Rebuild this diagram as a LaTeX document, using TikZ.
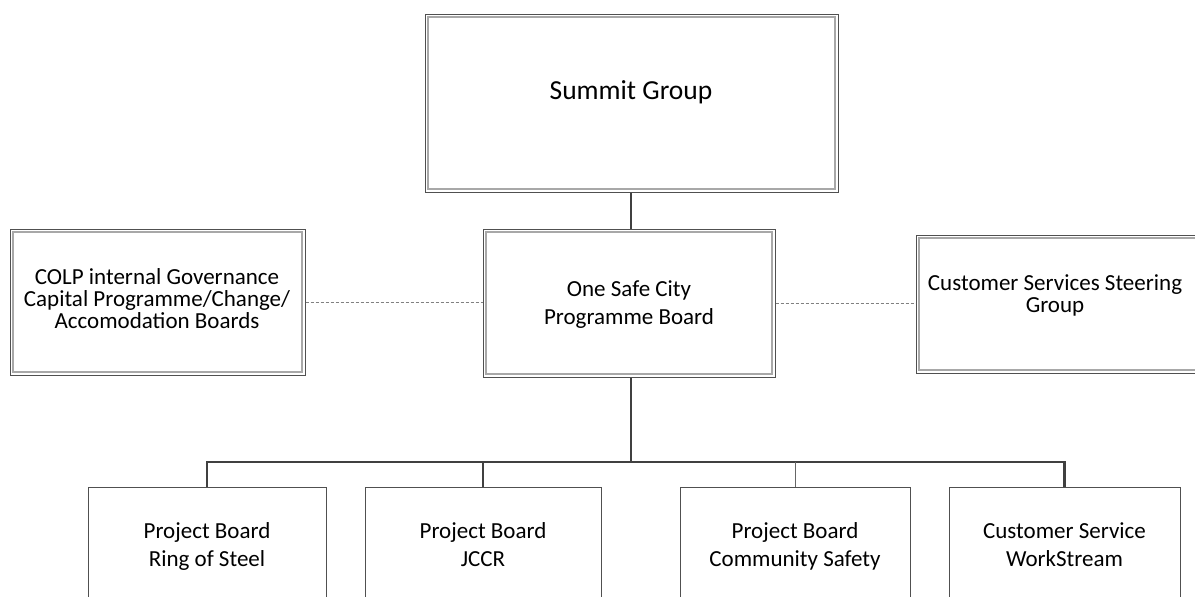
\documentclass[tikz,border=0pt]{standalone}
\usepackage{fontspec}
\setmainfont{Carlito}
\definecolor{lineC}{HTML}{404040}
\definecolor{boxC}{HTML}{505050}
\definecolor{innerC}{HTML}{A8A8A8}
\begin{document}
\begin{tikzpicture}[x=1pt,y=-1pt,
  box/.style={draw=boxC, line width=1pt, fill=white, rectangle, inner sep=0pt},
  innerbox/.style={draw=innerC, line width=1.3pt},
  txt/.style={align=center, inner sep=0pt, text depth=5pt, font=\fontsize{23}{27.5}\selectfont},
  txttight/.style={align=center, inner sep=0pt, text depth=5pt, font=\fontsize{23}{21.8}\selectfont},
  conn/.style={draw=lineC, line width=2.2pt},
  thinconn/.style={draw=lineC!80, line width=1pt},
  dashconn/.style={draw=gray, line width=0.8pt, dash pattern=on 3pt off 2pt}]
\useasboundingbox (0,0) rectangle (1195,597);
\clip (0,0) rectangle (1195,597);
\fill[white] (0,0) rectangle (1195,597);

% top boxes (double border)
\node[box, minimum width=413pt, minimum height=178pt] (sg) at (631.5,103) {};
\draw[innerbox] ([shift={(3.5,3.5)}]sg.north west) rectangle ([shift={(-3.5,-3.5)}]sg.south east);
\node[txt, font=\fontsize{27.5}{33}\selectfont] (sgt) at (631,93) {Summit Group};

\node[box, minimum width=292pt, minimum height=148pt] (osc) at (629,303) {};
\draw[innerbox] ([shift={(3.5,3.5)}]osc.north west) rectangle ([shift={(-3.5,-3.5)}]osc.south east);
\node[txt] (osct) at (629,305) {One Safe City\\Programme Board};

\node[box, minimum width=295pt, minimum height=146pt] (colp) at (157.5,302) {};
\draw[innerbox] ([shift={(3.5,3.5)}]colp.north west) rectangle ([shift={(-3.5,-3.5)}]colp.south east);
\node[txttight] (colpt) at (157,301) {COLP internal Governance\\Capital Programme/Change/\\Accomodation Boards};

\node[box, minimum width=284pt, minimum height=138pt] (css) at (1058,304) {};
\draw[innerbox] ([shift={(3.5,3.5)}]css.north west) rectangle ([shift={(-3.5,-3.5)}]css.south east);
\node[txttight] (csst) at (1055,296) {Customer Services Steering\\Group};

% bottom boxes
\node[box, minimum width=238pt, minimum height=163pt] (b1) at (207,568.5) {};
\node[box, minimum width=236pt, minimum height=163pt] (b2) at (483,568.5) {};
\node[box, minimum width=230pt, minimum height=163pt] (b3) at (795,568.5) {};
\node[box, minimum width=231pt, minimum height=163pt] (b4) at (1064.5,568.5) {};
\node[txt] (b1t) at (207,547) {Project Board\\Ring of Steel};
\node[txt] (b2t) at (483,547) {Project Board\\JCCR};
\node[txt] (b3t) at (795,547) {Project Board\\Community Safety};
\node[txt] (b4t) at (1064.5,547) {Customer Service\\WorkStream};

% connectors
\coordinate (bus) at (631,462);
\draw[conn] (sg.south -| osc.north) ++(2,0) coordinate (sgs) -- (sgs |- osc.north);
\draw[dashconn] (colp.east) -- (colp.east -| osc.west);
\draw[dashconn] (osc.east) -- (osc.east -| css.west);
\draw[conn] (osc.south) ++(2,0) coordinate (oscs) -- (oscs |- bus);
\draw[conn] (b1.north) -- (b1.north |- bus) -- (b4.north |- bus) -- (b4.north);
\draw[conn] (b2.north) -- (b2.north |- bus);
\draw[thinconn] (b3.north) -- (b3.north |- bus);
\end{tikzpicture}
\end{document}
